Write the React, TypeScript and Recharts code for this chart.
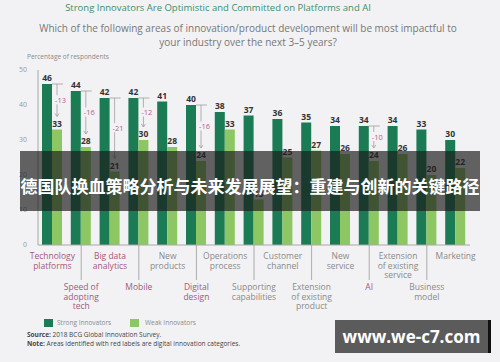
import React from "react";
import { BarChart, Bar, XAxis, YAxis, LabelList } from "recharts";

const categories = [
  "Technology\nplatforms",
  "Speed of\nadopting\ntech",
  "Big data\nanalytics",
  "Mobile",
  "New\nproducts",
  "Digital\ndesign",
  "Operations\nprocess",
  "Supporting\ncapabilities",
  "Customer\nchannel",
  "Extension\nof existing\nproduct",
  "New\nservice",
  "AI",
  "Extension\nof existing\nservice",
  "Business\nmodel",
  "Marketing",
];
const strong = [46, 44, 42, 42, 41, 40, 38, 37, 36, 35, 34, 34, 34, 33, 30];
const weak = [33, 28, 21, 30, 28, 24, 33, 13, 25, 27, 26, 24, 26, 20, 22];
const digital = [true, true, true, true, false, true, false, false, false, false, false, true, false, false, false];
const yTicks = [0, 10, 20, 30, 40, 50];

const BG = "#f2f2f4";
const STRONG = "#1b7b55";
const WEAK = "#8dc764";
const FONT = "'Open Sans', 'Noto Sans', sans-serif";

const data = categories.map((name, i) => ({ name, strong: strong[i], weak: weak[i] }));

const CategoryTick = (props: any) => {
  const { x, y, payload } = props;
  const i = categories.indexOf(payload.value);
  const lines = categories[i].split("\n");
  const low = i % 2 === 1;
  const color = digital[i] ? "#a4587c" : "#8a8a8a";
  const start = low ? y + 45 : y + 14;
  return (
    <g>
      {low && <line x1={x} y1={y} x2={x} y2={y + 35} stroke="#9a9a9a" strokeWidth={0.8} />}
      {lines.map((l, k) => (
        <text key={k} x={x} y={start + k * 9.5} textAnchor="middle" fontSize={8.5} fill={color} fontFamily={FONT}>
          {l}
        </text>
      ))}
    </g>
  );
};

const DiffMark = (props: any) => {
  const { x, y, width, height, index } = props;
  if (!digital[index]) return null;
  const unit = height / weak[index];
  const base = y + height;
  const yTop = base - strong[index] * unit;
  const yEnd = y - 13;
  const cx = x + width / 2;
  const mid = (yTop + yEnd) / 2;
  const txt = `-${strong[index] - weak[index]}`;
  return (
    <g>
      <line x1={x} y1={yTop} x2={x + width + 1} y2={yTop} stroke="#a0a0a0" strokeWidth={0.8} />
      <line x1={cx} y1={yTop} x2={cx} y2={yEnd} stroke="#a0a0a0" strokeWidth={0.8} />
      <polyline points={`${cx - 2},${yEnd - 3} ${cx},${yEnd} ${cx + 2},${yEnd - 3}`} fill="none" stroke="#a0a0a0" strokeWidth={0.8} />
      <rect x={cx - 2} y={mid - 5} width={11} height={9} fill={BG} />
      <text x={cx + 3.5} y={mid + 2.5} textAnchor="middle" fontSize={7.5} fill="#c0588a" fontFamily={FONT}>
        {txt}
      </text>
    </g>
  );
};

export default function App() {
  return (
    <div style={{ position: "fixed", left: 0, top: 0, width: 500, height: 362, background: BG, overflow: "hidden", fontFamily: FONT }}>
      <div style={{ position: "absolute", left: 0, top: 1, width: 436, textAlign: "center", fontSize: 9.5, color: "#3f8d6c" }}>
        Strong Innovators Are Optimistic and Committed on Platforms and AI
      </div>
      <div style={{ position: "absolute", left: 0, top: 21, width: 496, textAlign: "center", fontSize: 10, lineHeight: "14px", color: "#777" }}>
        Which of the following areas of innovation/product development will be most impactful to
        <br />
        your industry over the next 3–5 years?
      </div>
      <div style={{ position: "absolute", left: 27, top: 52, fontSize: 6.5, color: "#8a8a8a" }}>Percentage of respondents</div>

      <div style={{ position: "absolute", left: 0, top: 0 }}>
        <BarChart width={500} height={321} data={data} margin={{ top: 70, right: 30, left: 0, bottom: 0 }} barSize={10} barGap={0}>
          <XAxis
            dataKey="name"
            interval={0}
            height={76}
            tickLine={false}
            tickSize={0}
            tickMargin={0}
            axisLine={{ stroke: "#a8a8a8" }}
            tick={<CategoryTick />}
          />
          <YAxis
            width={38}
            domain={[0, 50]}
            ticks={yTicks}
            tickLine={false}
            tickMargin={5}
            axisLine={{ stroke: "#a8a8a8" }}
            tick={{ fontSize: 7, fill: "#9a9a9a", fontFamily: FONT }}
          />
          <Bar dataKey="strong" fill={STRONG} isAnimationActive={false}>
            <LabelList dataKey="strong" position="top" offset={3} fontSize={8.5} fontWeight="bold" fill="#333" fontFamily={FONT} />
          </Bar>
          <Bar dataKey="weak" fill={WEAK} isAnimationActive={false}>
            <LabelList dataKey="weak" position="top" offset={3} fontSize={8.5} fontWeight="bold" fill="#333" fontFamily={FONT} />
            <LabelList dataKey="weak" content={<DiffMark />} />
          </Bar>
        </BarChart>
      </div>

      <div style={{ position: "absolute", left: 44, top: 318, display: "flex", alignItems: "center", fontSize: 6.5, color: "#8a8a8a" }}>
        <span style={{ width: 9, height: 8, background: STRONG, display: "inline-block", marginRight: 4 }} />
        <span style={{ width: 73 }}>Strong Innovators</span>
        <span style={{ width: 9, height: 8, background: WEAK, display: "inline-block", marginRight: 6 }} />
        <span>Weak Innovators</span>
      </div>
      <div style={{ position: "absolute", left: 27, top: 330, fontSize: 6.5, lineHeight: "9px", color: "#444" }}>
        <b>Source:</b> 2018 BCG Global Innovation Survey.
        <br />
        <b>Note:</b> Areas identified with red labels are digital innovation categories.
      </div>

      <div
        style={{
          position: "absolute",
          left: 20,
          top: 151,
          width: 460,
          height: 60,
          background: "rgba(28,28,28,0.68)",
          color: "#fff",
          fontFamily: "'Noto Sans CJK SC', sans-serif",
          fontWeight: "bold",
          fontSize: 17,
          display: "flex",
          alignItems: "center",
          justifyContent: "center",
          paddingTop: 8,
          boxSizing: "border-box",
          whiteSpace: "nowrap",
        }}
      >
        德国队换血策略分析与未来发展展望：重建与创新的关键路径
      </div>

      <div
        style={{
          position: "absolute",
          left: 335,
          top: 320,
          width: 153,
          height: 33,
          background: "#5b5b5b",
          borderRight: "3px solid #111",
          color: "#fff",
          fontFamily: "'Open Sans', sans-serif",
          fontWeight: "bold",
          fontSize: 17,
          whiteSpace: "nowrap",
          display: "flex",
          alignItems: "center",
          justifyContent: "center",
        }}
      >
        www.we-c7.com
      </div>
    </div>
  );
}
